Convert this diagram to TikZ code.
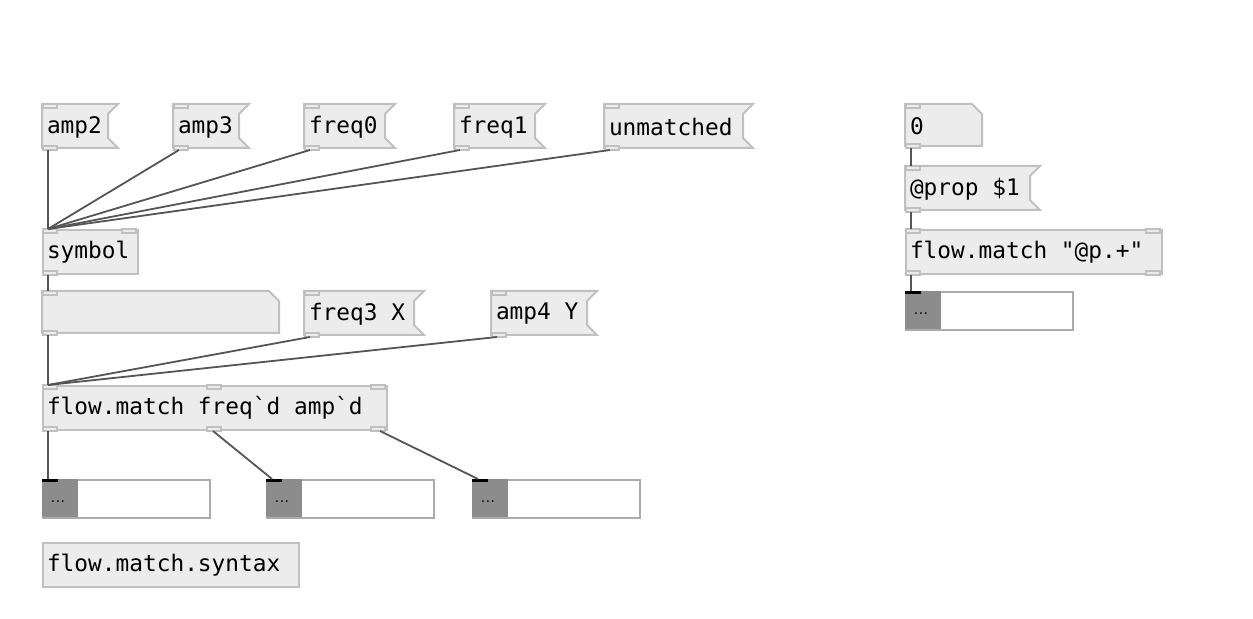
\documentclass[tikz,border=0pt]{standalone}
\usepackage{fontspec}
\setmonofont{DejaVu Sans Mono}
\usetikzlibrary{calc}
\definecolor{boxfill}{HTML}{ECECEC}
\definecolor{boxedge}{HTML}{C0C0C0}
\definecolor{wiregray}{HTML}{555555}
\definecolor{dispgray}{HTML}{8C8C8C}
\definecolor{dispedge}{HTML}{ABABAB}
\newcommand\pdfont{\fontsize{11.4pt}{13pt}\selectfont\ttfamily}
% boxes: name, x, y, width, text
\newcommand\pdobj[5]{\pgfmathsetlengthmacro\pdtw{#4*0.5pt-4pt}
  \node[pdbox,draw=boxedge,fill=boxfill,minimum height=22pt,text width=\pdtw] (#1) at (#2,#3) {#5};}
\newcommand\pdmsg[5]{\pgfmathsetlengthmacro\pdtw{#4*0.5pt-4pt}
  \draw[boxpath] (#2,#3) -- ++(#4+10,0) -- ++(-10,10) -- ++(0,24) -- ++(10,10) -- ++(-#4-10,0) -- cycle;
  \node[pdbox,minimum height=22pt,text width=\pdtw] (#1) at (#2,#3) {#5};}
\newcommand\pdatom[5]{\pgfmathsetlengthmacro\pdtw{#4*0.5pt-4pt}
  \draw[boxpath] (#2,#3) -- ++(#4-10,0) -- ++(10,10) -- ++(0,32) -- ++(-#4,0) -- cycle;
  \node[pdbox,minimum height=21pt,text width=\pdtw] (#1) at (#2,#3) {#5};}
% display: name, x, y
\newcommand\pddisp[3]{
  \node[disp] (#1) at (#2,#3) {};
  \fill[dispgray] (#1.north west) rectangle ++(36,38);
  \fill[black] (#1.north west) rectangle ++(16,3);
  \node[dots] (#1dots) at ($(#1.north west)+(16,23)$) {...};}
\newcommand\inlet[2]{\draw[iolet] ($(#1.north west)+(#2,0)$) rectangle ++(14,4);}
\newcommand\outlet[2]{\draw[iolet] ($(#1.south west)+(#2,0)$) rectangle ++(14,-4);}
\begin{document}
\begin{tikzpicture}[x=0.5pt,y=-0.5pt,
  pdbox/.style={rectangle,anchor=north west,inner xsep=2pt,inner ysep=0pt,line width=1pt,font=\pdfont,align=flush left},
  boxpath/.style={draw=boxedge,fill=boxfill,line width=1pt},
  iolet/.style={draw=boxedge,fill=boxfill,line width=0.6pt},
  wire/.style={draw=wiregray,line width=0.9pt},
  disp/.style={rectangle,anchor=north west,draw=dispedge,fill=white,line width=0.8pt,minimum width=83.5pt,minimum height=19pt,inner sep=0pt},
  dots/.style={font=\fontsize{8.5pt}{9pt}\selectfont,text=black,inner sep=0pt}]
\useasboundingbox (0,0) rectangle (1253,619);
% left patch
\pdmsg{amp2}{42}{104}{66}{amp2}
\pdmsg{amp3}{173}{104}{66}{amp3}
\pdmsg{freq0}{304}{104}{81}{freq0}
\pdmsg{freq1}{454}{104}{81}{freq1}
\pdmsg{unm}{604}{104}{139}{unmatched}
\foreach \m in {amp2,amp3,freq0,freq1,unm}{\inlet{\m}{1}\outlet{\m}{1}}
\pdobj{sym}{42}{229}{95}{symbol}
\inlet{sym}{1}\inlet{sym}{80}\outlet{sym}{1}
\pdatom{lst}{42}{291}{237}{}
\inlet{lst}{1}\outlet{lst}{1}
\pdmsg{freq3}{304}{291}{110}{freq3 X}
\pdmsg{amp4}{491}{291}{96}{amp4 Y}
\inlet{freq3}{1}\outlet{freq3}{1}\inlet{amp4}{1}\outlet{amp4}{1}
\pdobj{fm}{42}{385}{344}{flow.match freq`d amp`d}
\foreach \d in {1,165,329}{\inlet{fm}{\d}\outlet{fm}{\d}}
\pddisp{d1}{42}{479}
\pddisp{d2}{266}{479}
\pddisp{d3}{472}{479}
\pdobj{syn}{42}{542}{256}{flow.match.syntax}
% wires
\foreach \m in {amp2,amp3,freq0,freq1,unm}
  \draw[wire] ([xshift=3pt]\m.south west) -- ([xshift=3pt]sym.north west);
\draw[wire] ([xshift=3pt]sym.south west) -- ([xshift=3pt]lst.north west);
\foreach \m in {lst,freq3,amp4}
  \draw[wire] ([xshift=3pt]\m.south west) -- ([xshift=3pt]fm.north west);
\draw[wire] ([xshift=3pt]fm.south west) -- ([xshift=3pt]d1.north west);
\draw[wire] ([xshift=85.5pt]fm.south west) -- ([xshift=3pt]d2.north west);
\draw[wire] ([xshift=-4pt]fm.south east) -- ([xshift=3pt]d3.north west);
% right patch
\pdatom{zero}{905}{104}{77}{0}
\pdmsg{prop}{905}{166}{125}{@prop \$1}
\pdobj{fmp}{905}{229}{256}{flow.match "@p.+"}
\inlet{zero}{1}\outlet{zero}{1}\inlet{prop}{1}\outlet{prop}{1}
\inlet{fmp}{1}\inlet{fmp}{241}\outlet{fmp}{1}\outlet{fmp}{241}
\pddisp{d4}{905}{291}
\draw[wire] ([xshift=3pt]zero.south west) -- ([xshift=3pt]prop.north west);
\draw[wire] ([xshift=3pt]prop.south west) -- ([xshift=3pt]fmp.north west);
\draw[wire] ([xshift=3pt]fmp.south west) -- ([xshift=3pt]d4.north west);
\end{tikzpicture}
\end{document}
